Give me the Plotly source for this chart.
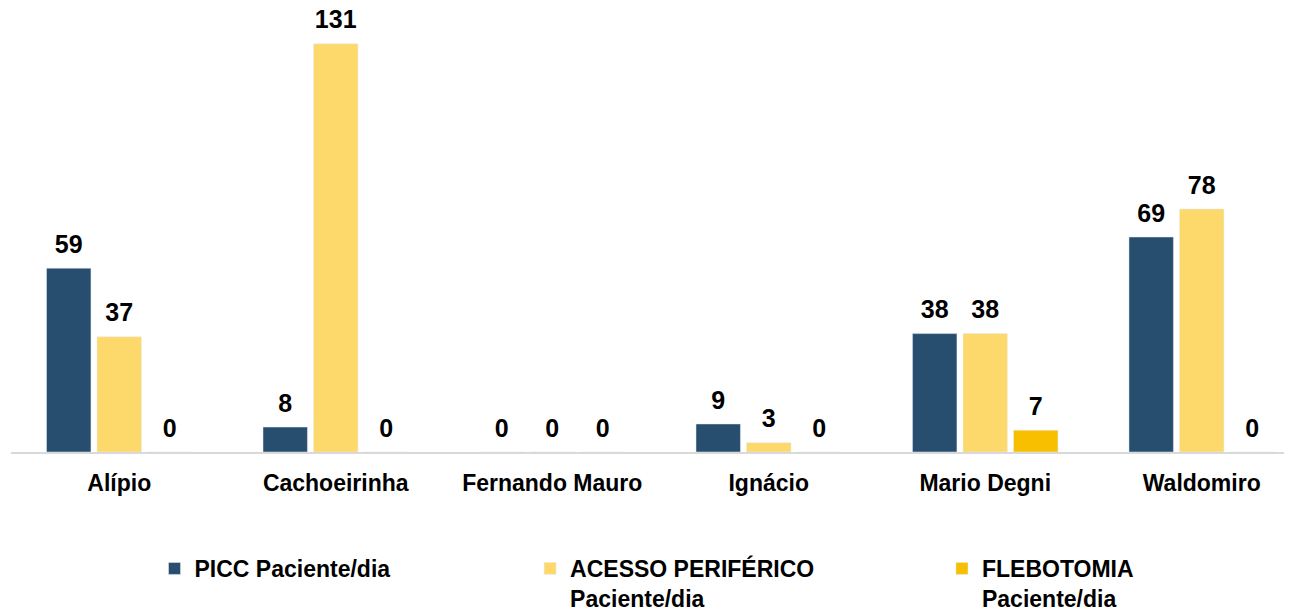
import plotly.graph_objects as go

unidades = ["Alípio", "Cachoeirinha", "Fernando Mauro", "Ignácio", "Mario Degni", "Waldomiro"]
picc = [59, 8, 0, 9, 38, 69]
acesso_periferico = [37, 131, 0, 3, 38, 78]
flebotomia = [0, 0, 0, 0, 7, 0]

nomes = ["<b>PICC Paciente/dia</b>", "<b>ACESSO PERIFÉRICO<br>Paciente/dia</b>", "<b>FLEBOTOMIA<br>Paciente/dia</b>"]
cores = ["#284E6F", "#FDD86A", "#F8BE00"]

fonte = "Liberation Sans, Arial"

fig = go.Figure()
series = [picc, acesso_periferico, flebotomia]
legendas = ["legend", "legend2", "legend3"]
for valores, nome, cor, leg in zip(series, nomes, cores, legendas):
    fig.add_trace(go.Bar(
        x=unidades,
        y=valores,
        name=nome,
        marker_color=cor,
        text=valores,
        # linha vazia pequena embaixo para afastar o rótulo da barra
        texttemplate="<span style='font-size:25px'><b>%{text}</b></span><br>&nbsp;",
        textposition="outside",
        textfont=dict(family=fonte, size=8, color="black"),
        cliponaxis=False,
        legend=leg,
    ))

def legenda(x):
    return dict(x=x, y=0.1135, xref="container", yref="container", xanchor="left", yanchor="top",
                orientation="h", font=dict(family=fonte, size=23, color="black"), valign="top",
                bgcolor="rgba(0,0,0,0)", itemwidth=30)

# a página tem 8px de margem no body, por isso as margens descontam esse deslocamento
fig.update_layout(
    width=1292,
    height=608,
    margin=dict(l=3, r=8, t=0, b=164),
    barmode="group",
    bargap=0.30,
    bargroupgap=0.12,
    plot_bgcolor="white",
    paper_bgcolor="white",
    showlegend=True,
    legend=legenda(0.1134),
    legend2=legenda(0.4041),
    legend3=legenda(0.7229),
    xaxis=dict(
        range=[-0.5, 5.417],
        showline=True,
        linecolor="#D9D9D9",
        linewidth=2,
        ticks="",
        tickfont=dict(family=fonte, size=23, color="black", weight="bold"),
        ticklabelstandoff=9,
        automargin=False,
    ),
    yaxis=dict(range=[0, 142.5], visible=False, automargin=False),
)

fig.write_html("out.html")
